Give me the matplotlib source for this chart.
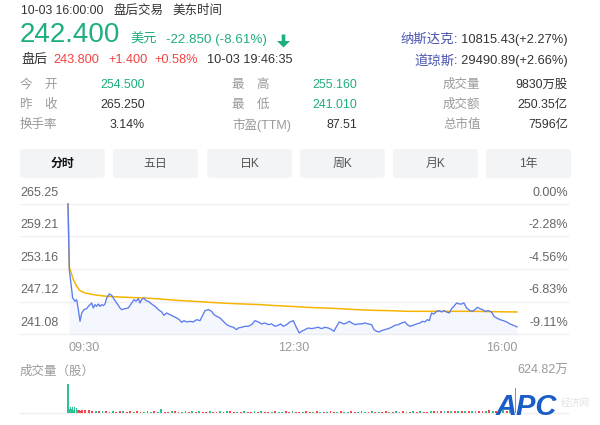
import matplotlib
matplotlib.use('Agg')
import matplotlib.pyplot as plt
import matplotlib.patches as mpatches

plt.rcParams['font.family'] = ['Liberation Sans', 'Noto Sans CJK SC', 'DejaVu Sans']

# ---------------- data ----------------
prev_close = 265.25
price_min = [0, 1.16, 4.05, 6.08, 7.53, 8.97, 10.42, 11.87, 13.89, 16.21, 17.66, 19.11, 20.55, 22.0, 23.45,
             24.9, 26.34, 27.79, 29.24, 30.69, 32.13, 33.58, 35.9, 37.92, 39.37, 42.27, 45.16, 46.61, 49.5,
             52.4, 55.29, 57.32, 59.06, 61.08, 62.53, 63.98, 66.0, 67.74, 69.77, 72.66, 75.56, 78.45, 81.35,
             83.37, 85.69, 88.58, 91.48, 94.38, 96.69, 98.72, 100.74, 103.06, 105.95, 108.85, 111.75, 114.64,
             116.96, 118.98, 121.88, 124.77, 126.8, 129.12, 132.01, 134.91, 137.8, 140.7, 143.59, 146.49,
             147.93, 150.83, 153.72, 156.62, 159.51, 162.41, 165.3, 168.2, 171.09, 173.99, 176.88, 179.78,
             182.67, 184.7, 187.0, 189.9, 192.8, 195.7, 198.6, 200.9, 202.9, 205.8, 208.7, 211.6, 214.5,
             217.4, 220.3, 223.2, 226.1, 229.0, 231.0, 233.3, 235.6, 237.7, 239.7, 242.0, 244.3, 246.4,
             249.3, 252.1, 255.0, 257.9, 260.8, 263.7, 265.8, 268.1, 270.4, 272.4, 275.3, 278.2, 281.1,
             284.0, 286.9, 289.8, 292.7, 294.7, 297.0, 299.9, 302.8, 305.7, 308.0, 310.0, 312.1, 313.8,
             315.8, 317.9, 320.2, 322.5, 324.5, 326.5, 328.9, 331.2, 333.2, 335.2, 337.6, 339.9, 341.9,
             343.9, 346.2, 349.1, 351.4, 353.5, 355.5, 357.8, 360.1, 362.2, 365.1, 367.9, 370.0, 372.3,
             375.2, 378.1, 381.0, 383.9, 386.8, 390.0]
price_val = [265.25, 253.04, 247.78, 247.16, 247.47, 245.61, 243.44, 244.99, 245.61, 245.79, 246.23, 246.54,
             246.85, 245.92, 246.54, 246.23, 246.66, 246.23, 246.54, 246.35, 246.66, 247.78, 248.52, 248.27,
             247.78, 246.85, 245.92, 245.61, 245.79, 245.92, 246.85, 247.47, 247.16, 247.65, 246.85, 247.47,
             247.78, 247.28, 247.16, 246.66, 246.23, 245.61, 245.18, 244.56, 244.99, 244.68, 244.37, 244.06,
             243.75, 243.25, 243.56, 243.32, 243.44, 243.32, 243.75, 243.56, 244.56, 245.42, 245.61, 245.3,
             244.68, 244.37, 244.06, 243.44, 242.82, 242.51, 242.33, 241.89, 242.2, 242.33, 242.51, 242.51,
             242.82, 243.56, 243.32, 242.95, 243.13, 242.82, 242.95, 242.51, 242.7, 242.95, 242.51, 242.82,
             243.32, 243.56, 242.2, 241.27, 241.58, 241.89, 242.2, 242.08, 242.2, 242.33, 242.08, 242.33,
             242.2, 241.89, 241.58, 242.51, 243.32, 243.13, 242.95, 243.13, 243.44, 243.13, 242.82, 242.95,
             242.95, 243.13, 242.95, 242.82, 241.89, 241.58, 241.46, 241.71, 241.89, 242.08, 242.33, 242.7,
             242.82, 243.13, 243.32, 242.82, 242.51, 242.7, 242.95, 243.13, 243.44, 243.32, 243.75, 243.56,
             244.99, 244.8, 245.3, 245.42, 245.17, 245.42, 245.17, 244.99, 245.79, 246.23, 246.85, 246.66,
             246.66, 246.85, 245.92, 245.42, 245.3, 245.61, 246.04, 245.79, 245.61, 245.3, 245.42, 245.17,
             244.37, 244.06, 243.75, 243.56, 243.32, 242.95, 242.7, 242.4]
avg_min = [0, 1.16, 2.31, 4.63, 7.53, 10.42, 14.76, 22.0, 30.69, 39.37, 50.95, 65.43, 79.9, 94.38, 108.85,
           123.3, 137.8, 152.3, 166.75, 181.2, 192.8, 207.3, 221.75, 236.2, 250.7, 265.2, 279.7, 294.1,
           323.1, 352.0, 366.5, 390.0]
avg_val = [265.25, 253.35, 252.73, 251.18, 249.95, 249.14, 248.71, 248.4, 248.15, 248.02, 247.9, 247.78,
           247.59, 247.34, 247.16, 246.97, 246.79, 246.66, 246.54, 246.35, 246.23, 246.04, 245.92, 245.79,
           245.61, 245.48, 245.42, 245.3, 245.3, 245.3, 245.24, 245.17]
y_ticks = [265.25, 259.21, 253.16, 247.12, 241.08]
pct_labels = ['0.00%', '-2.28%', '-4.56%', '-6.83%', '-9.11%']
time_ticks = [0, 180, 390]
time_labels = ['09:30', '12:30', '16:00']

vol_early = [624.82, 95, 135, 80, 120, 70, 125, 105, 60, 55, 65, 50]
vol_early_dir = "GGGGGGGGGRRR"
vol_mid = [58, 62, 55, 50, 48, 40, 35, 45, 30, 38, 28, 42, 33, 25, 36, 30, 44, 27, 32, 38, 29,
           35, 26, 85, 31, 28, 34, 37, 25, 30, 42, 29, 33, 27, 36, 31, 24, 38, 30, 26, 35, 29,
           33, 40, 28, 25, 31, 36, 27, 30, 34, 26, 38, 29, 32, 24, 35, 30, 27, 33, 28, 41, 26,
           31, 29, 34, 25, 30, 37, 28, 32, 26, 35, 30, 27, 33, 29, 24, 36, 31, 28, 34, 26, 30,
           39, 27, 32, 29, 35, 25, 30, 33, 28, 36, 31, 27, 34, 30, 38, 29, 32, 35, 40, 33, 37,
           45, 38, 42, 48, 36, 40, 44, 38, 50, 42, 46, 40, 48, 60, 44, 52, 47, 55, 50, 58, 62]
vol_mid_dir = ("RRRRGRGRRGRRGRRGRRGRG" "RGGRRGRRGRRGRGRRGRRGR" "GRRGRGRRGRGRRGRGGRRGR"
               "RGRRGRGRGRRGRGGRRGRGR" "GRGRRGRGRRGRGRGRRGRGR" "GRGRGRGRGGRRGRGRGGRGR")
vol_mid_start, vol_mid_step = 12, 3
vol_close_min, vol_close = 389, 540
vol_max = 624.82

# ---------------- styles ----------------
GREEN = '#1eae7f'
RED = '#f0413f'
BLUE = '#5b7cf0'
YELLOW = '#f6b500'
VUP = '#2cc293'
VDN = '#f5474a'

fig = plt.figure(figsize=(6, 4.25), dpi=100)
W, H = 600, 425


def blank(a):
    a.set_facecolor('none')
    a.patch.set_visible(False)
    for s in a.spines.values():
        s.set_visible(False)
    a.set_xticks([])
    a.set_yticks([])
    a.axis('off')


ov = fig.add_axes([0, 0, 1, 1], zorder=0)
ov.set_xlim(0, W)
ov.set_ylim(H, 0)
blank(ov)


def t(x, y, s, **kw):
    kw.setdefault('va', 'center')
    kw.setdefault('fontsize', 9)
    return ov.text(x, y, s, **kw)


# header
t(21, 11, "10-03 16:00:00", color='#333', fontsize=8.8)
t(113, 11, "盘后交易", color='#333', fontsize=9)
t(172, 11, "美东时间", color='#333', fontsize=9)
t(20, 42, "242.400", color=GREEN, fontsize=20, va='baseline')
t(130, 39.5, "美元", color=GREEN, fontsize=9.5)
t(166, 40, "-22.850 (-8.61%)", color=GREEN, fontsize=9.6)
ov.add_patch(mpatches.FancyArrow(283.5, 34.5, 0, 13, width=3.6, head_width=13, head_length=6.5,
                                 length_includes_head=True, color=GREEN, lw=0))
t(21, 60, "盘后", color='#333', fontsize=9.4)
t(53, 60, "243.800", color=RED, fontsize=9.2)
t(108, 60, "+1.400", color=RED, fontsize=9.2)
t(154, 60, "+0.58%", color=RED, fontsize=9.2)
t(207, 60, "10-03 19:46:35", color='#333', fontsize=9.2)
for yy, lab, val in [(40, "纳斯达克", ": 10815.43(+2.27%)"), (61, "道琼斯", ": 29490.89(+2.66%)")]:
    vt = t(568, yy, val, color='#333', fontsize=9.3, ha='right')
    ov.annotate(lab, xy=(0, 0.5), xycoords=vt, ha='right', va='center', fontsize=9.6, color='#4a56b0')

# stats table
rows_y = [85, 105, 125]
stats = [
    [("今\u3000开", "254.500", GREEN), ("昨\u3000收", "265.250", '#333'), ("换手率", "3.14%", '#333')],
    [("最\u3000高", "255.160", GREEN), ("最\u3000低", "241.010", GREEN), ("市盈(TTM)", "87.51", '#333')],
    [("成交量", "9830万股", '#333'), ("成交额", "250.35亿", '#333'), ("总市值", "7596亿", '#333')],
]
col_lx = [20, 232, 443]
col_rx = [145, 357, 568]
for ci, col in enumerate(stats):
    for ri, (lab, val, c) in enumerate(col):
        t(col_lx[ci], rows_y[ri], lab, color='#9a9a9a', fontsize=9)
        t(col_rx[ci], rows_y[ri], val, color=c, fontsize=8.9, ha='right')

# tabs
tabs = ["分时", "五日", "日K", "周K", "月K", "1年"]
tab_x = [20, 113, 207, 300, 393, 486]
for i, (lab, x0) in enumerate(zip(tabs, tab_x)):
    ov.add_patch(mpatches.FancyBboxPatch((x0, 149), 85, 29, boxstyle="round,pad=0,rounding_size=3",
                                         facecolor='#f3f4f6', edgecolor='none'))
    t(x0 + 42.5, 163.5, lab, ha='center', fontsize=8.6,
      color='#111' if i == 0 else '#555', fontweight='bold' if i == 0 else 'normal')

# price chart
x_lo, x_hi = -41.7, 434.3
ax = fig.add_axes([20 / W, 1 - 334 / H, 548 / W, 130 / H], zorder=1)
ax.set_xlim(x_lo, x_hi)
ax.set_ylim(y_ticks[-1], y_ticks[0])
blank(ax)
for yt, pl in zip(y_ticks, pct_labels):
    ax.axhline(yt, color='#f0f0f0', lw=1, zorder=0, clip_on=False)
    ax.annotate(f"{yt:.2f}", xy=(0, yt), xycoords=('axes fraction', 'data'), xytext=(0, 8),
                textcoords='offset points', ha='left', va='center', fontsize=9, color='#666')
    ax.annotate(pl, xy=(1, yt), xycoords=('axes fraction', 'data'), xytext=(0, 8),
                textcoords='offset points', ha='right', va='center', fontsize=9, color='#666')
ax.fill_between(price_min[1:], price_val[1:], y_ticks[-1], color=BLUE, alpha=0.06, lw=0, zorder=1)
ax.plot(price_min, price_val, color=BLUE, lw=0.95, zorder=3, clip_on=False)
ax.plot(avg_min, avg_val, color=YELLOW, lw=1.1, zorder=2, clip_on=False)
for tm, tl, ha in zip(time_ticks, time_labels, ['left', 'left', 'right']):
    ax.annotate(tl, xy=(tm, 0), xycoords=('data', 'axes fraction'), xytext=(2 if tm == 180 else 0, -10),
                textcoords='offset points', ha=ha, va='center', fontsize=9, color='#999')

# volume chart
vax = fig.add_axes([20 / W, 1 - 413 / H, 548 / W, 29 / H], zorder=1)
vax.set_xlim(x_lo, x_hi)
vax.set_ylim(0, vol_max)
blank(vax)
vax.axhline(0, color='#eeeeee', lw=1, clip_on=False, zorder=0)
early_x = list(range(len(vol_early)))
vax.bar(early_x, vol_early, width=0.9, color=[VUP if d == 'G' else VDN for d in vol_early_dir], lw=0)
mid_x = [vol_mid_start + vol_mid_step * i for i in range(len(vol_mid))]
vax.bar(mid_x, vol_mid, width=1.6, color=[VUP if d == 'G' else VDN for d in vol_mid_dir], lw=0)
vax.bar([vol_close_min], [vol_close], width=0.9, color=VUP, lw=0)
t(20, 372, "成交量（股）", color='#9a9a9a', fontsize=9)
t(568, 371, "624.82万", color='#9a9a9a', fontsize=9, ha='right')

# logo
lg = fig.add_axes([0, 0, 1, 1], zorder=5)
lg.set_xlim(0, W)
lg.set_ylim(H, 0)
blank(lg)
lg.text(496, 415, "APC", fontsize=21, fontweight='bold', fontstyle='italic', color='#1a5cc8',
        va='baseline', ha='left')
lg.text(561, 403, "经济网", fontsize=7, color='#e2e2e2', va='center', ha='left')

fig.savefig('out.png', dpi=100)
